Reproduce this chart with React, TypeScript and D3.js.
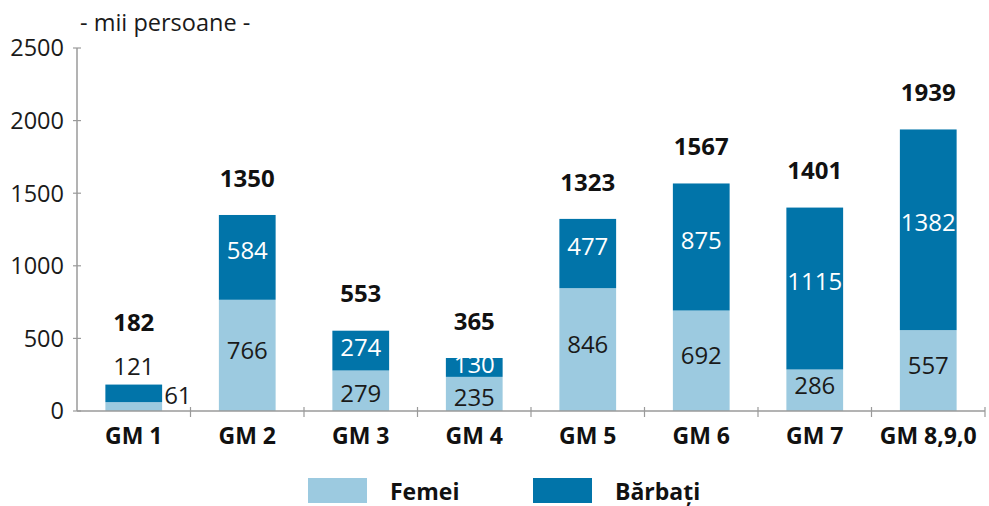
import React from "react";
import * as d3 from "d3";

const categories = ["GM 1", "GM 2", "GM 3", "GM 4", "GM 5", "GM 6", "GM 7", "GM 8,9,0"];
const femei = [61, 766, 279, 235, 846, 692, 286, 557];
const barbati = [121, 584, 274, 130, 477, 875, 1115, 1382];
const totals = [182, 1350, 553, 365, 1323, 1567, 1401, 1939];
const yTicks = [0, 500, 1000, 1500, 2000, 2500];
const seriesNames = ["Femei", "Bărbați"];
const colors = ["#9ccae0", "#0174a9"];
const unitLabel = "- mii persoane -";

const W = 989;
const H = 506;
const FONT = "'Open Sans', 'Noto Sans', sans-serif";

export default function App() {
  const x = d3.scaleBand<string>().domain(categories).range([77, 985]).paddingInner(0.5).paddingOuter(0.25);
  const y = d3.scaleLinear().domain([0, 2500]).range([411, 48]);
  const step = x.step();
  const bw = x.bandwidth();
  const axisColor = "#9a9a9a";

  return (
    <div style={{ position: "absolute", left: 0, top: 0 }}>
      <svg width={W} height={H} style={{ display: "block", background: "#fff" }} fontFamily={FONT}>
        {/* y axis */}
        <line x1={77} x2={77} y1={y(2500)} y2={y(0)} stroke={axisColor} strokeWidth={1.5} />
        {yTicks.map((t) => (
          <g key={t}>
            <line x1={73} x2={81} y1={y(t)} y2={y(t)} stroke={axisColor} strokeWidth={1.2} />
            <text x={64} y={y(t)} dy="0.36em" textAnchor="end" fontSize={23.5} fill="#1a1a1a">
              {t}
            </text>
          </g>
        ))}
        <text x={80} y={31} fontSize={23.5} fill="#1a1a1a">{unitLabel}</text>

        {/* bars */}
        {categories.map((c, i) => {
          const x0 = x(c)!;
          const cx = x0 + bw / 2;
          const f = femei[i];
          const b = barbati[i];
          const small = totals[i] < 300;
          const fy0 = y(0), fy1 = y(f), by1 = y(f + b);
          const tight = fy0 - fy1 < 40 || fy1 - by1 < 40;
          const fOff = tight ? 3 : -5;
          const bOff = tight ? -3 : -7;
          return (
            <g key={c}>
              <rect x={x0} width={bw} y={fy1} height={fy0 - fy1} fill={colors[0]} />
              <rect x={x0} width={bw} y={by1} height={fy1 - by1} fill={colors[1]} />
              {small ? (
                <>
                  <text x={x0 + bw + 2} y={(fy0 + fy1) / 2 - 11} dy="0.36em" fontSize={24} fill="#1a1a1a">{f}</text>
                  <text x={cx} y={by1 - 18} dy="0.36em" textAnchor="middle" fontSize={24} fill="#1a1a1a">{b}</text>
                  <text x={cx} y={by1 - 62} dy="0.36em" textAnchor="middle" fontSize={24} fontWeight="bold" fill="#111">{totals[i]}</text>
                </>
              ) : (
                <>
                  <text x={cx} y={(fy0 + fy1) / 2 + fOff} dy="0.36em" textAnchor="middle" fontSize={24} fill="#1a1a1a">{f}</text>
                  <text x={cx} y={(fy1 + by1) / 2 + bOff} dy="0.36em" textAnchor="middle" fontSize={24} fill="#ffffff">{b}</text>
                  <text x={cx} y={by1 - 37} dy="0.36em" textAnchor="middle" fontSize={24} fontWeight="bold" fill="#111">{totals[i]}</text>
                </>
              )}
            </g>
          );
        })}

        {/* x axis */}
        <line x1={77} x2={985} y1={y(0)} y2={y(0)} stroke={axisColor} strokeWidth={1.5} />
        {categories.map((c) => (
          <line key={"t" + c} x1={x(c)! - (step - bw) / 2 + step} x2={x(c)! - (step - bw) / 2 + step} y1={y(0) - 4} y2={y(0) + 6} stroke={axisColor} strokeWidth={1.2} />
        ))}
        {categories.map((c) => (
          <text key={"l" + c} x={x(c)! + bw / 2} y={444} textAnchor="middle" fontSize={23} fontWeight="bold" fill="#111">
            {c}
          </text>
        ))}

        {/* legend */}
        {seriesNames.map((s, i) => (
          <g key={s} transform={`translate(${308 + i * 225},478)`}>
            <rect x={0} y={0} width={59} height={25} fill={colors[i]} />
            <text x={82} y={22} fontSize={23} fontWeight="bold" fill="#111">{s}</text>
          </g>
        ))}
      </svg>
    </div>
  );
}
